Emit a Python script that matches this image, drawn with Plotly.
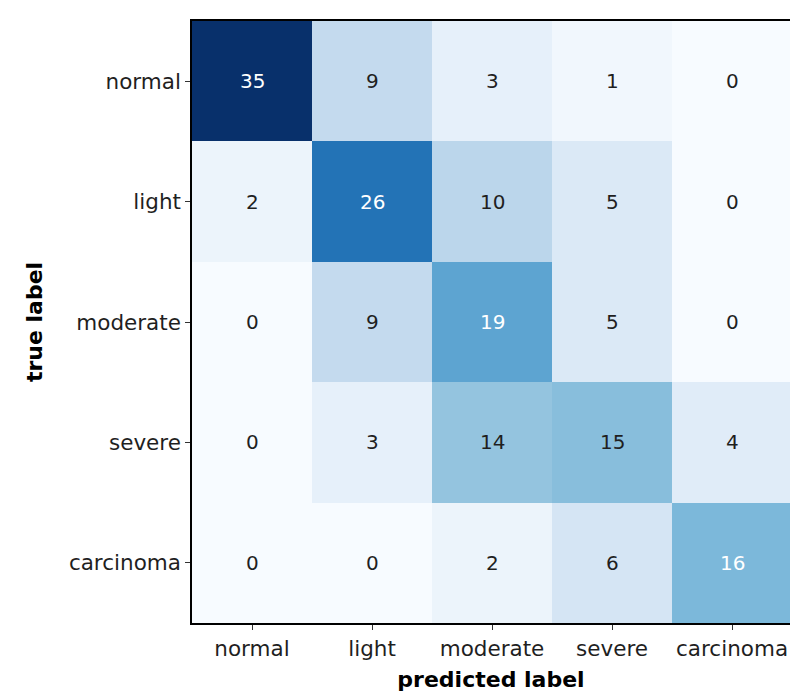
import plotly.graph_objects as go

# Confusion matrix: rows are true classes, columns are predicted classes
class_names = ["normal", "light", "moderate", "severe", "carcinoma"]
counts = [
    [35, 9, 3, 1, 0],
    [2, 26, 10, 5, 0],
    [0, 9, 19, 5, 0],
    [0, 3, 14, 15, 4],
    [0, 0, 2, 6, 16],
]

# Sequential blue palette (ColorBrewer "Blues", 9 classes)
blues = ["#f7fbff", "#deebf7", "#c6dbef", "#9ecae1", "#6baed6",
         "#4292c6", "#2171b5", "#08519c", "#08306b"]
colorscale = [[i / (len(blues) - 1), c] for i, c in enumerate(blues)]

idx = list(range(len(class_names)))
vmax = max(max(r) for r in counts)
thresh = 15.5

fig = go.Figure(go.Heatmap(
    z=counts, x=idx, y=idx,
    zmin=0, zmax=vmax,
    colorscale=colorscale,
    showscale=False,
    hoverinfo="skip",
))

font = "DejaVu Sans"
for i, row in enumerate(counts):
    for j, v in enumerate(row):
        fig.add_annotation(
            x=j, y=i, text=str(v), showarrow=False,
            font=dict(family=font, size=20,
                      color="white" if v > thresh else "#1f1f1f"),
        )

fig.update_layout(
    width=790, height=692,
    margin=dict(l=192, r=0, t=21, b=69),
    paper_bgcolor="white", plot_bgcolor="white",
    font=dict(family=font, size=21.5, color="#1f1f1f"),
)

fig.update_xaxes(
    tickmode="array", tickvals=idx, ticktext=class_names,
    range=[-0.5, 4.483],
    showline=True, linecolor="black", linewidth=1.5, mirror=True,
    ticks="outside", ticklen=5, tickwidth=1.2, tickcolor="#333",
    showgrid=False, zeroline=False, automargin=False,
    title=dict(text="<b>predicted label</b>", standoff=12,
               font=dict(family=font, size=22, color="black")),
)
fig.update_yaxes(
    tickmode="array", tickvals=idx, ticktext=class_names,
    range=[4.5, -0.5],
    showline=True, linecolor="black", linewidth=1.5, mirror=False,
    ticks="outside", ticklen=5, tickwidth=1.2, tickcolor="#333",
    showgrid=False, zeroline=False, automargin=False,
    title=dict(text="<b>true label</b>", standoff=20,
               font=dict(family=font, size=22, color="black")),
)

fig.write_html("out.html")
